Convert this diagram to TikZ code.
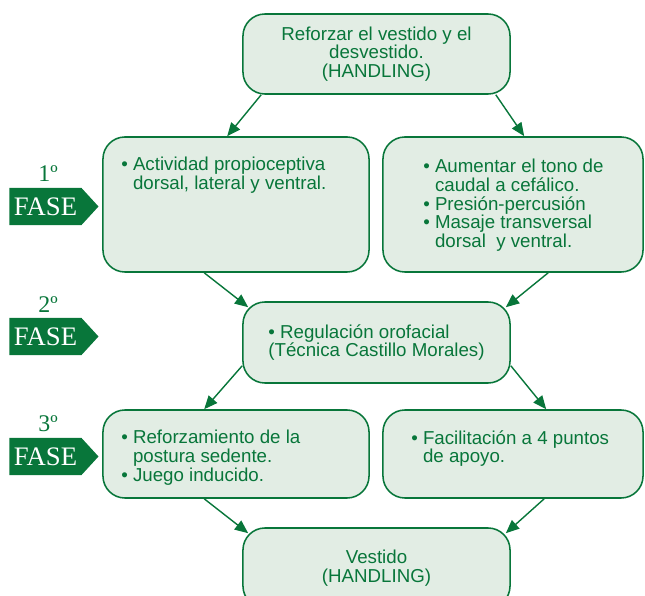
\documentclass[tikz,border=0pt]{standalone}
\usepackage{fontspec}
\setmainfont{Liberation Sans}
\newfontfamily\fasefont{Liberation Serif}
\usepackage{tikz}
\usetikzlibrary{arrows.meta}
\usetikzlibrary{shapes.symbols,calc}
\definecolor{fasegreen}{RGB}{8,118,58}
\definecolor{boxfill}{RGB}{226,237,228}

\begin{document}
\begin{tikzpicture}[x=0.025cm,y=-0.025cm,
    flowbox/.style={draw=fasegreen,fill=boxfill,line width=1.1pt,rounded corners=0.55cm,
      inner sep=0pt,text=fasegreen,font=\fontsize{13.3}{13.3}\selectfont,align=center},
    flowtext/.style={anchor=north west,inner sep=0pt,text=fasegreen,
      font=\fontsize{13.3}{13.3}\selectfont,align=left},
    fasetag/.style={shape=signal,signal to=east,signal pointer angle=95,fill=fasegreen,
      minimum width=2.225cm,minimum height=0.925cm,inner sep=0pt,text=white,
      font=\fasefont\fontsize{19}{19}\selectfont},
    fasenum/.style={text=fasegreen,font=\fasefont\fontsize{17}{17}\selectfont,inner sep=0pt},
    flowarrow/.style={fasegreen,line width=1pt,-{Triangle[length=9.5pt,width=8pt]}}]
    \useasboundingbox (0,0) rectangle (645,596);
    % boxes
    \node[flowbox,minimum width=6.675cm,minimum height=2cm] (top) at (376.5,54)
      {Reforzar el vestido y el\\desvestido.\\(HANDLING)};
    \node[flowbox,minimum width=6.65cm,minimum height=3.375cm] (lone) at (236,204.5) {};
    \node[flowbox,minimum width=6.5cm,minimum height=3.375cm] (rone) at (513,204.5) {};
    \node[flowbox,minimum width=6.675cm,minimum height=2.025cm,align=left] (mid) at (376.5,342.5)
      {\textbullet\ Regulación orofacial\\(Técnica Castillo Morales)};
    \node[flowbox,minimum width=6.65cm,minimum height=2.2cm] (lthree) at (236,454) {};
    \node[flowbox,minimum width=6.5cm,minimum height=2.2cm] (rthree) at (513,454) {};
    \node[flowbox,minimum width=6.675cm,minimum height=2cm] (bot) at (376.5,568)
      {Vestido\\(HANDLING)};
    % box texts
    \node[flowtext] (lonetext) at (121,157)
      {\textbullet\ Actividad propioceptiva\\\phantom{\textbullet\ }dorsal, lateral y ventral.};
    \node[flowtext] (ronetext) at (423,159)
      {\textbullet\ Aumentar el tono de\\\phantom{\textbullet\ }caudal a cefálico.\\
       \textbullet\ Presión-percusión\\\textbullet\ Masaje transversal\\
       \phantom{\textbullet\ }dorsal\ \ y ventral.};
    \node[flowtext] (lthreetext) at (121,430)
      {\textbullet\ Reforzamiento de la\\\phantom{\textbullet\ }postura sedente.\\
       \textbullet\ Juego inducido.};
    \node[flowtext] (rthreetext) at (411,430)
      {\textbullet\ Facilitación a 4 puntos\\\phantom{\textbullet\ }de apoyo.};
    % phases
    \node[fasetag] (faseone) at (45.5,206.5) {FASE};
    \node[fasetag] (fasetwo) at (45.5,336.5) {FASE};
    \node[fasetag] (fasethree) at (45.5,456.5) {FASE};
    \node[fasenum] (numone) at (48,174) {1º};
    \node[fasenum] (numtwo) at (48,305) {2º};
    \node[fasenum] (numthree) at (48,424) {3º};
    % arrows
    \draw[flowarrow] ($(top.south west)+(19,0)$) -- ($(lone.north west)+(125,0)$);
    \draw[flowarrow] ($(top.south east)+(-15,0)$) -- ($(rone.north west)+(142,0)$);
    \draw[flowarrow] ($(lone.south west)+(102,0)$) -- ($(mid.north west)+(6,6)$);
    \draw[flowarrow] ($(rone.south west)+(166,0)$) -- ($(mid.north east)+(-5,6)$);
    \draw[flowarrow] ($(mid.south west)+(0,-18)$) -- ($(lthree.north west)+(102,0)$);
    \draw[flowarrow] ($(mid.south east)+(0,-18)$) -- ($(rthree.north west)+(164,0)$);
    \draw[flowarrow] ($(lthree.south west)+(102,0)$) -- ($(bot.north west)+(6,6)$);
    \draw[flowarrow] ($(rthree.south west)+(162,0)$) -- ($(bot.north east)+(-5,6)$);
\end{tikzpicture}
\end{document}
